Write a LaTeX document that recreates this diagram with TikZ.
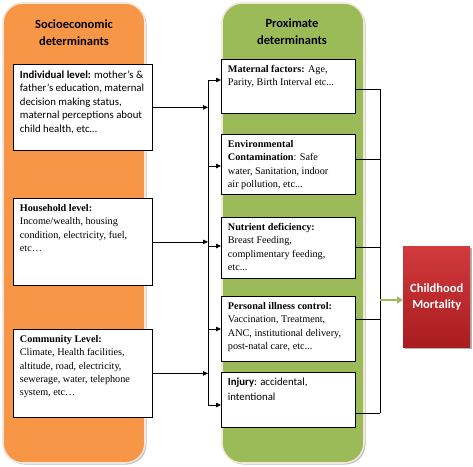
\documentclass[tikz,border=0pt]{standalone}
\usepackage{fontspec}
\setmainfont{Liberation Serif}
\newfontfamily\calib{Carlito}
\usetikzlibrary{arrows.meta}
\definecolor{panelorange}{HTML}{F79646}
\definecolor{panelgreen}{HTML}{9BBB59}
\definecolor{redtop}{HTML}{D23A3C}
\definecolor{redbot}{HTML}{A81C20}
\definecolor{rimcol}{HTML}{F4E6D8}
\tikzset{
  panel/.style={rounded corners=20pt, draw=rimcol, line width=1.6pt},
  shadowpanel/.style={rounded corners=20pt, fill=black!25},
  factor/.style={draw=black, line width=0.8pt, fill=white, anchor=north west, inner xsep=6.5pt, inner ysep=6pt, font=\fontsize{10.2}{13.3}\selectfont},
  sfactor/.style={factor, font=\calib\fontsize{10.8}{13.6}\selectfont},
  title/.style={align=center, font=\calib\bfseries\fontsize{12.5}{17}\selectfont},
  link/.style={line width=0.8pt},
  arr/.style={line width=0.8pt, -{Triangle[length=5pt,width=4.5pt]}},
  garr/.style={line width=2.6pt, draw=panelgreen, -{Triangle[length=6pt,width=7pt]}}
}
\newcommand{\fbody}[3]{\parbox[t][#2pt][t]{#1pt}{\raggedright #3}}
\begin{document}
\begin{tikzpicture}[x=1pt, y=-1pt]
\useasboundingbox (0,0) rectangle (473,466);
% panels
\fill[shadowpanel] (4.5,4.5) rectangle (146.5,464.5);
\filldraw[panel, fill=panelorange] (3,3) rectangle (145,463);
\fill[shadowpanel] (223.5,4.5) rectangle (365.5,464.5);
\filldraw[panel, fill=panelgreen] (222,3) rectangle (364,463);
\node[title] (t1) at (74,33) {Socioeconomic\\determinants};
\node[title] (t2) at (292,32) {Proximate\\determinants};
% left boxes
\node[sfactor] (ind) at (13,64) {\fbody{126}{74}{\textbf{Individual level:} mother’s \&\\ father’s education, maternal\\ decision making status,\\ maternal perceptions about\\ child health, etc…}};
\node[factor] (hh) at (13,198) {\fbody{126}{75}{\textbf{Household level:}\\ Income/wealth, housing\\ condition, electricity, fuel,\\ etc…}};
\node[factor] (com) at (13,329) {\fbody{126}{76}{\textbf{Community Level:}\\ Climate, Health facilities,\\ altitude, road, electricity,\\ sewerage, water, telephone\\ system, etc…}};
% right boxes
\node[factor] (mat) at (221,59) {\fbody{121}{42}{\textbf{Maternal factors:} Age,\\ Parity, Birth Interval etc...}};
\node[factor] (env) at (221,134) {\fbody{121}{48}{\textbf{Environmental}\\ \textbf{Contamination}: Safe\\ water, Sanitation, indoor\\ air pollution, etc...}};
\node[factor] (nut) at (221,217) {\fbody{121}{49}{\textbf{Nutrient deficiency:}\\ Breast Feeding,\\ complimentary feeding,\\ etc...}};
\node[factor] (per) at (221,296) {\fbody{121}{53}{\textbf{Personal illness control:}\\ Vaccination, Treatment,\\ ANC, institutional delivery,\\ post-natal care, etc...}};
\node[sfactor, font=\calib\fontsize{10.8}{15}\selectfont] (inj) at (221,372) {\fbody{121}{43}{\textbf{Injury}: accidental,\\ intentional}};
% outcome
\fill[black!30] (405,248) rectangle (472,349);
\node[anchor=north west, minimum width=67pt, minimum height=101pt, inner sep=0pt, top color=redtop, bottom color=redbot, text=white, align=center, font=\calib\bfseries\fontsize{12.5}{16}\selectfont] (cm) at (403,246) {Childhood\\Mortality};
% left junction
\coordinate (jL1) at (208,80);
\coordinate (jL2) at (208,166);
\coordinate (jL3) at (208,246);
\coordinate (jL4) at (208,329);
\coordinate (jL5) at (208,405);
\draw[link] (jL1) -- (jL5);
\draw[arr] (ind.east) -- (ind.east -| jL1);
\draw[arr] (hh.east) -- (hh.east -| jL1);
\draw[arr] (com.east) -- (com.east -| jL1);
\draw[arr] (jL1) -- (jL1 -| mat.west);
\draw[arr] (jL2) -- (jL2 -| env.west);
\draw[arr] (jL3) -- (jL3 -| nut.west);
\draw[arr] (jL4) -- (jL4 -| per.west);
\draw[arr] (jL5) -- (jL5 -| inj.west);
% right junction
\coordinate (jR1) at (380,89);
\coordinate (jR2) at (380,159);
\coordinate (jR3) at (380,247);
\coordinate (jR4) at (380,319);
\coordinate (jR5) at (380,413);
\coordinate (jRm) at (380,300);
\draw[link] (jR1) -- (jR5);
\draw[link] (jR1 -| mat.east) -- (jR1);
\draw[link] (jR2 -| env.east) -- (jR2);
\draw[link] (jR3 -| nut.east) -- (jR3);
\draw[link] (jR4 -| per.east) -- (jR4);
\draw[link] (jR5 -| inj.east) -- (jR5);
\draw[garr] (jRm) -- (jRm -| cm.west);
\end{tikzpicture}
\end{document}
